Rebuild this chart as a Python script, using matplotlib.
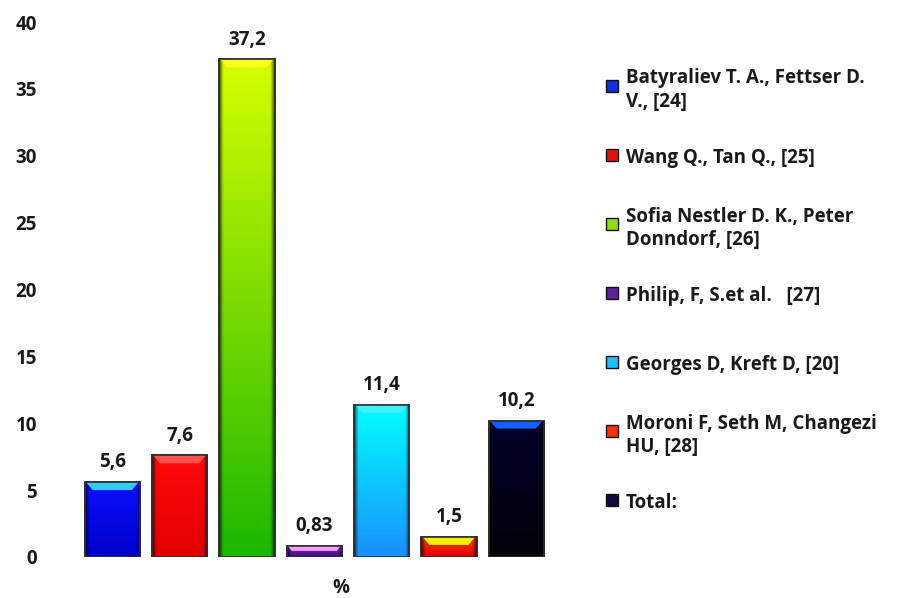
import numpy as np
import matplotlib
matplotlib.use('Agg')
import matplotlib.pyplot as plt
from matplotlib.colors import to_rgb
from matplotlib.patches import Polygon

# data
labels = ['Batyraliev T. A., Fettser D.\nV., [24]',
          'Wang Q., Tan Q., [25]',
          'Sofia Nestler D. K., Peter\nDonndorf, [26]',
          'Philip, F, S.et al.   [27]',
          'Georges D, Kreft D, [20]',
          'Moroni F, Seth M, Changezi\nHU, [28]',
          'Total:']
values = [5.6, 7.6, 37.2, 0.83, 11.4, 1.5, 10.2]
value_text = ['5,6', '7,6', '37,2', '0,83', '11,4', '1,5', '10,2']
category = '%'

# bar shading: top colour, bottom colour, bevel highlight
top_colors = ['#0a10ff', '#ff0a0a', '#d4ff00', '#7a2be0', '#00ffff', '#ff3a00', '#00002a']
bottom_colors = ['#0000c8', '#e00000', '#1cb800', '#3a1070', '#1a90ff', '#e00000', '#000008']
bevel_colors = ['#33ccff', '#ff5050', '#ffff20', '#ff9cff', '#40f0ff', '#ffee00', '#1060ff']
legend_colors = ['#1030e0', '#e01010', '#90e000', '#6020a0', '#20c0ff', '#ff3000', '#0a0a40']

plt.rcParams['font.family'] = ['Open Sans', 'DejaVu Sans']
plt.rcParams['font.weight'] = 'bold'
txt_color = '#1a1a1a'
fs = 13.5

fig = plt.figure(figsize=(8.98, 5.98), dpi=100)
ax = fig.add_axes([55 / 898, 41 / 598, 505 / 898, 535 / 598])

x = np.arange(len(values))
width = 0.82
bars = ax.bar(x, values, width=width, color=bottom_colors, edgecolor='#202020',
              linewidth=1.2, zorder=2)

ax.set_xlim(-0.85, 6.65)
ax.set_ylim(0, 40)

px_y = 535 / 40.0
px_x = 505 / 7.5

for i, rect in enumerate(bars):
    x0 = rect.get_x()
    w = rect.get_width()
    h = rect.get_height()
    # vertical gradient with darkened sides
    ny, nx = 64, 48
    t = np.linspace(0, 1, ny)[:, None, None]
    top = np.array(to_rgb(top_colors[i]))
    bot = np.array(to_rgb(bottom_colors[i]))
    col = bot + (top - bot) * t
    u = np.linspace(0, 1, nx)
    s = np.clip(np.minimum(u, 1 - u) / 0.07, 0, 1)
    shade = (0.35 + 0.65 * s)[None, :, None]
    img = np.clip(col * shade, 0, 1)
    im = ax.imshow(img, extent=(x0, x0 + w, 0, h), origin='lower', aspect='auto',
                   interpolation='bilinear', zorder=3)
    im.set_clip_path(rect)
    # bevel on top edge
    d = min(8 / px_y, 0.45 * h)
    dx = d * px_y / px_x
    bevel = Polygon([(x0 + 0.02, h), (x0 + w - 0.02, h), (x0 + w - dx, h - d), (x0 + dx, h - d)],
                    closed=True, facecolor=bevel_colors[i], edgecolor='none', zorder=4)
    ax.add_patch(bevel)
    ax.add_patch(Polygon([(x0, 0), (x0 + w, 0), (x0 + w, h), (x0, h)], closed=True,
                         fill=False, edgecolor='#303030', linewidth=1.2, zorder=5))
    ax.annotate(value_text[i], (x0 + w / 2, h), xytext=(0, 7), textcoords='offset points',
                ha='center', va='bottom', fontsize=fs, fontweight='bold', color=txt_color,
                annotation_clip=False)

ax.set_xlim(-0.85, 6.65)
ax.set_ylim(0, 40)
ax.set_yticks(np.arange(0, 41, 5))
ax.set_xticks([3.4])
ax.set_xticklabels([category])
ax.tick_params(axis='both', length=0, labelsize=fs, labelcolor=txt_color)
ax.tick_params(axis='y', pad=13)
ax.tick_params(axis='x', pad=15)
for lab in ax.get_yticklabels() + ax.get_xticklabels():
    lab.set_fontweight('bold')
for sp in ax.spines.values():
    sp.set_visible(False)

# legend drawn as its own axes, one row per series
n = len(labels)
leg = fig.add_axes([600 / 898, (598 - 534.5) / 598, 290 / 898, 483 / 598])
leg.set_xlim(0, 1)
leg.set_ylim(n - 0.5, -0.5)
leg.axis('off')
for i in range(n):
    leg.plot([0.04], [i], marker='s', markersize=8, markerfacecolor=legend_colors[i],
             markeredgecolor='#101010', markeredgewidth=1.0, clip_on=False)
    leg.text(0.09, i, labels[i], ha='left', va='center_baseline', fontsize=fs,
             fontweight='bold', color=txt_color, linespacing=1.2)

fig.savefig('out.png', dpi=100, facecolor='white')
